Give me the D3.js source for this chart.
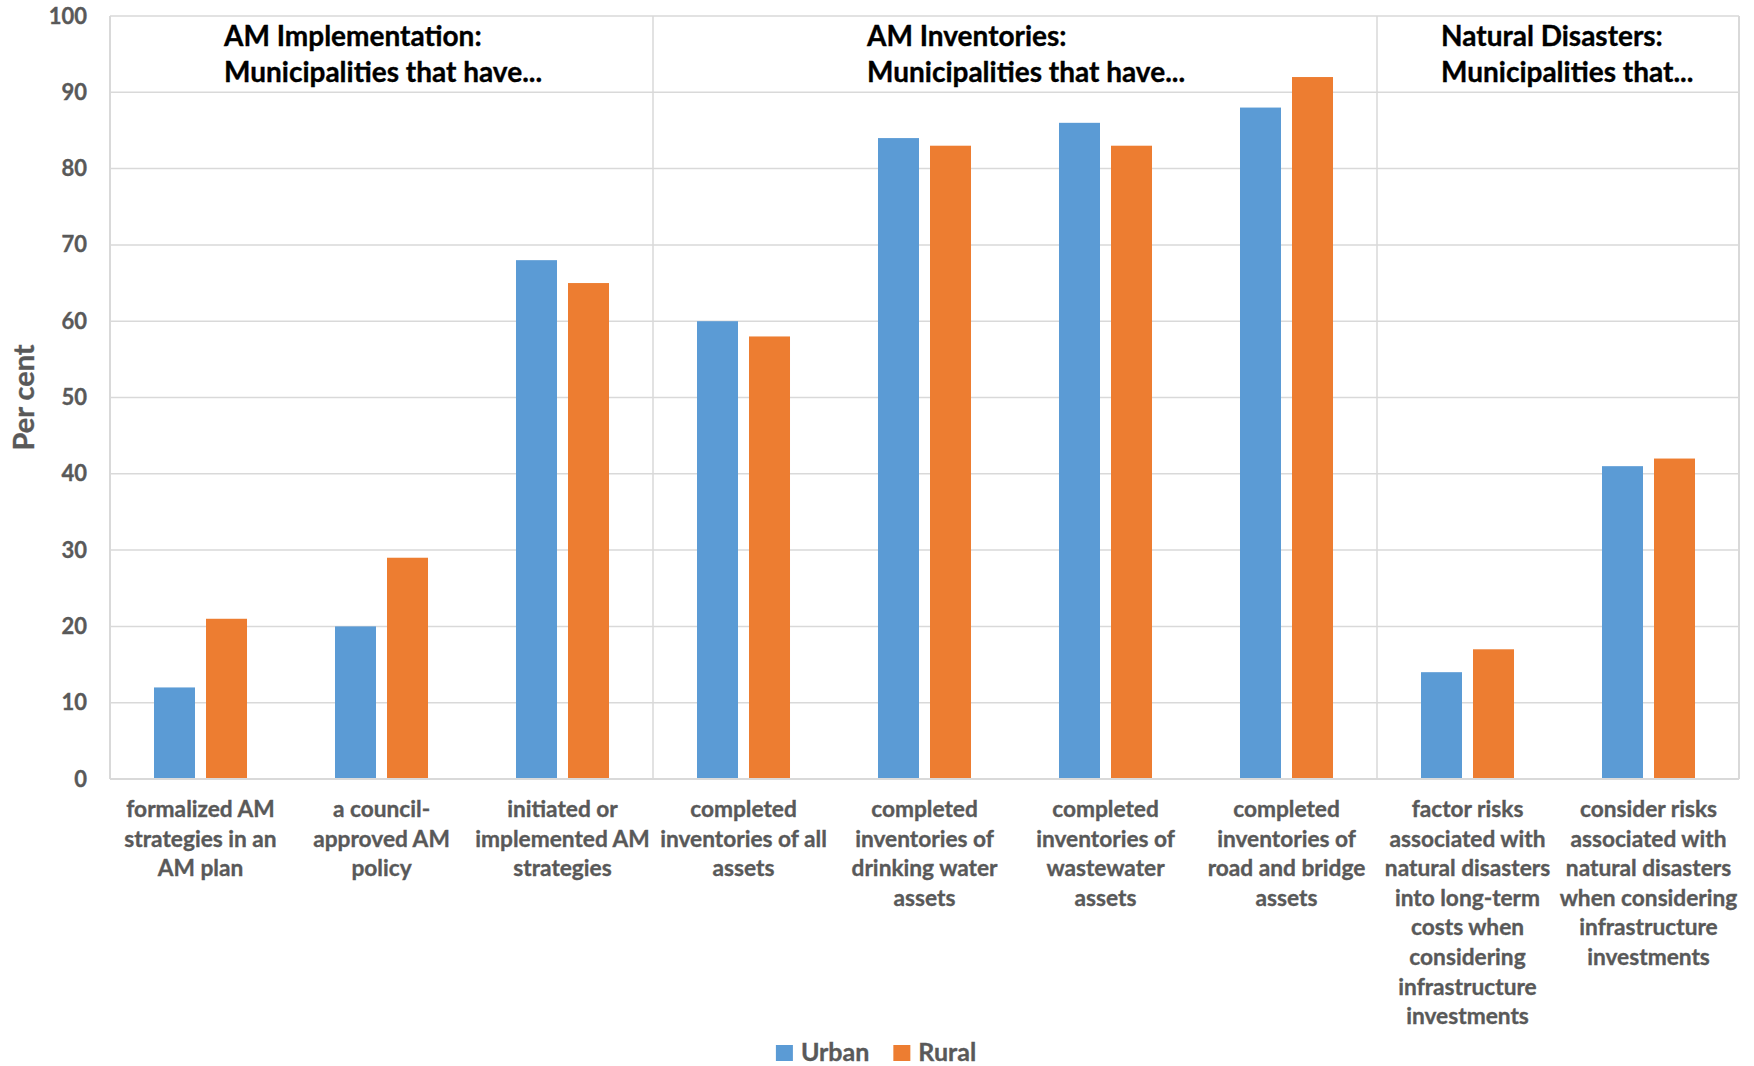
<!DOCTYPE html>
<html>
<head>
<meta charset="utf-8">
<script src="https://cdn.jsdelivr.net/npm/d3@7"></script>
<style>
  body { margin: 0; background: #fff; }
  svg { display: block; }
  text { font-family: Lato, "Open Sans", sans-serif; font-weight: 700; }
</style>
</head>
<body>
<svg id="chart" width="1754" height="1066"></svg>
<script>
// Survey results by category: share of municipalities (per cent)
const categories = [
  "formalized AM\nstrategies in an\nAM plan",
  "a council-\napproved AM\npolicy",
  "initiated or\nimplemented AM\nstrategies",
  "completed\ninventories of all\nassets",
  "completed\ninventories of\ndrinking water\nassets",
  "completed\ninventories of\nwastewater\nassets",
  "completed\ninventories of\nroad and bridge\nassets",
  "factor risks\nassociated with\nnatural disasters\ninto long-term\ncosts when\nconsidering\ninfrastructure\ninvestments",
  "consider risks\nassociated with\nnatural disasters\nwhen considering\ninfrastructure\ninvestments"
];
const urban = [12, 20, 68, 60, 84, 86, 88, 14, 41];
const rural = [21, 29, 65, 58, 83, 83, 92, 17, 42];
const seriesNames = ["Urban", "Rural"];
const yTicks = [0, 10, 20, 30, 40, 50, 60, 70, 80, 90, 100];
const yLabel = "Per cent";
const groupTitles = [
  ["AM Implementation:", "Municipalities that have..."],
  ["AM Inventories:", "Municipalities that have..."],
  ["Natural Disasters:", "Municipalities that..."]
];
const groupStarts = [0, 3, 7]; // index of the first category in each group

// ---- layout ----
const plot = { left: 110, right: 1739, top: 16, bottom: 779 };
const colors = { Urban: "#5B9BD5", Rural: "#ED7D31" };
const gridColor = "#d9d9d9";
const textGray = "#595959";
const titleOffsets = [114, 214, 64];

const svg = d3.select("#chart");

const x = d3.scaleBand().domain(categories).range([plot.left, plot.right]);
const xs = d3.scaleBand().domain(seriesNames).range([0, x.bandwidth()])
  .paddingInner(0.2115).paddingOuter(0.846);
const y = d3.scaleLinear().domain([0, 100]).range([plot.bottom, plot.top]);

// gray label style, slightly heavier than plain bold
function grayText(sel, size) {
  sel.attr("fill", textGray).attr("stroke", textGray).attr("stroke-width", 0.35)
    .style("font-size", size + "px")
    .style("font-family", "Lato, sans-serif").style("font-weight", 700);
  return sel;
}

// gridlines
svg.append("g").selectAll("line").data(yTicks.filter(t => t > 0)).join("line")
  .attr("x1", plot.left).attr("x2", plot.right)
  .attr("y1", d => y(d)).attr("y2", d => y(d))
  .attr("stroke", gridColor).attr("stroke-width", 1.5);

// group separators and right border
const seps = groupStarts.slice(1).map(i => x(categories[i]));
svg.append("g").selectAll("line").data(seps).join("line")
  .attr("x1", d => d).attr("x2", d => d)
  .attr("y1", y(100)).attr("y2", y(0))
  .attr("stroke", gridColor).attr("stroke-width", 1.5);
svg.append("line")
  .attr("x1", plot.right).attr("x2", plot.right)
  .attr("y1", y(100)).attr("y2", y(0))
  .attr("stroke", gridColor).attr("stroke-width", 2);

// bars
const rows = categories.map((c, i) => ({ c, Urban: urban[i], Rural: rural[i] }));
const gBars = svg.append("g");
seriesNames.forEach(s => {
  gBars.append("g").selectAll("rect").data(rows).join("rect")
    .attr("x", d => x(d.c) + xs(s))
    .attr("width", xs.bandwidth())
    .attr("y", d => y(d[s]))
    .attr("height", d => y(0) - y(d[s]))
    .attr("fill", colors[s]);
});

// left axis line and baseline
svg.append("line")
  .attr("x1", plot.left).attr("x2", plot.left)
  .attr("y1", y(100)).attr("y2", y(0))
  .attr("stroke", gridColor).attr("stroke-width", 2);
svg.append("line")
  .attr("x1", plot.left).attr("x2", plot.right)
  .attr("y1", y(0)).attr("y2", y(0))
  .attr("stroke", gridColor).attr("stroke-width", 2);

// y axis tick labels
const yAxis = d3.axisLeft(y).tickValues(yTicks).tickSize(0).tickPadding(23);
const gy = svg.append("g").attr("transform", `translate(${plot.left},0)`).call(yAxis);
gy.select(".domain").remove();
grayText(gy.selectAll("text"), 22);

// y axis title
grayText(svg.append("text")
  .attr("transform", `translate(34,${(y(100) + y(0)) / 2}) rotate(-90)`)
  .attr("text-anchor", "middle"), 29)
  .text(yLabel);

// category labels
const xAxis = d3.axisBottom(x).tickSize(0).tickFormat(() => "");
const gx = svg.append("g").attr("transform", `translate(0,${plot.bottom})`).call(xAxis);
gx.select(".domain").remove();
gx.selectAll(".tick").each(function(d) {
  const t = grayText(d3.select(this).append("text").attr("text-anchor", "middle"), 22.7);
  d.split("\n").forEach((line, i) => {
    t.append("tspan").attr("x", 0).attr("y", 38 + i * 29.6).text(line);
  });
});

// group titles
groupStarts.forEach((gi, k) => {
  const t = svg.append("text")
    .attr("fill", "#000").attr("stroke", "#000").attr("stroke-width", 0.35)
    .style("font-size", "28px");
  groupTitles[k].forEach((line, i) => {
    t.append("tspan")
      .attr("x", x(categories[gi]) + titleOffsets[k])
      .attr("y", 46 + i * 35.8)
      .text(line);
  });
});

// legend
const legend = svg.append("g");
let lx = 0;
seriesNames.forEach(s => {
  const g = legend.append("g").attr("transform", `translate(${lx},0)`);
  g.append("rect").attr("x", 0).attr("y", -16).attr("width", 17).attr("height", 16).attr("fill", colors[s]);
  const t = grayText(g.append("text").attr("x", 25).attr("y", 0), 25).text(s);
  lx += 25 + t.node().getComputedTextLength() + 24;
});
const legendW = lx - 24;
legend.attr("transform", `translate(${876 - legendW / 2},1061)`);
</script>
</body>
</html>
